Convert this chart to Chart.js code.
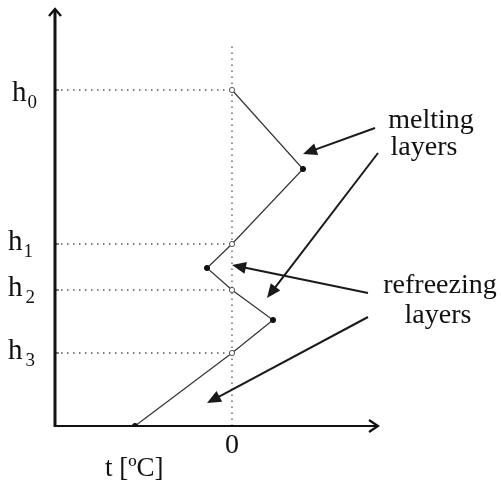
<!DOCTYPE html>
<html>
<head>
<meta charset="utf-8">
<script src="https://cdn.jsdelivr.net/npm/chart.js@4/dist/chart.umd.min.js"></script>
<style>
  html, body { margin: 0; padding: 0; background: #fff; }
  #wrap { width: 501px; height: 486px; }
</style>
</head>
<body>
<div id="wrap"><canvas id="c" width="501" height="486"></canvas></div>
<script>
// temperature profile: t [°C] against height
const profileT = [0, 7.1, 0, -2.5, 0, 4.1, 0, -9.7];
const profileH = [33.6, 25.7, 18.2, 15.8, 13.6, 10.6, 7.3, 0];
const crossing = [true, false, true, false, true, false, true, false]; // open circle where t = 0

// marked heights on the vertical axis
const levelNames = ['0', '1', '2', '3'];
const levelH = [33.6, 18.2, 13.6, 7.3];
const zeroLineTop = 38.4;

// axis ranges
const tMin = -17.7, tMax = 14.6;
const hMin = 0, hMax = 41.8;

// annotation arrows [fromT, fromH, toT, toH]
const arrows = [
  [14.3, 29.8, 7.1, 27.2],
  [14.6, 27.3, 3.5, 12.8],
  [13.6, 13.3, 0.0, 16.1],
  [13.6, 10.9, -2.5, 2.3]
];
// annotation texts [text, t, h]
const notes = [
  ['melting', 19.9, 29.8],
  ['layers', 19.2, 27.1],
  ['refreezing', 20.8, 13.3],
  ['layers', 20.6, 10.3]
];

const SERIF = '"Liberation Serif", "Times New Roman", serif';
const INK = '#111';

const datasets = [];
datasets.push({
  label: 'profile',
  data: profileT.map((t, i) => ({ x: t, y: profileH[i] })),
  showLine: true,
  borderColor: '#333',
  borderWidth: 1.2,
  pointRadius: 2.6,
  pointBorderWidth: 1,
  pointBorderColor: crossing.map(c => c ? '#555' : '#111'),
  pointBackgroundColor: crossing.map(c => c ? '#fff' : '#111'),
  order: 0
});
levelH.forEach((h, i) => {
  datasets.push({
    label: 'h' + levelNames[i],
    data: [{ x: tMin, y: h }, { x: 0, y: h }],
    showLine: true,
    borderColor: '#555',
    borderWidth: 1.3,
    borderDash: [1.5, 4.5],
    pointRadius: 0,
    order: 1
  });
});
datasets.push({
  label: 'zero',
  data: [{ x: 0, y: hMin }, { x: 0, y: zeroLineTop }],
  showLine: true,
  borderColor: '#555',
  borderWidth: 1.3,
  borderDash: [1.5, 4.5],
  pointRadius: 0,
  order: 1
});

function arrowHead(ctx, x1, y1, x2, y2, len, half) {
  const a = Math.atan2(y2 - y1, x2 - x1);
  ctx.beginPath();
  ctx.moveTo(x2, y2);
  ctx.lineTo(x2 - len * Math.cos(a) + half * Math.sin(a), y2 - len * Math.sin(a) - half * Math.cos(a));
  ctx.lineTo(x2 - len * Math.cos(a) - half * Math.sin(a), y2 - len * Math.sin(a) + half * Math.cos(a));
  ctx.closePath();
  ctx.fill();
}

const sketch = {
  id: 'sketch',
  afterDatasetsDraw(chart) {
    const ctx = chart.ctx;
    const xs = chart.scales.x, ys = chart.scales.y;
    const X = v => xs.getPixelForValue(v), Y = v => ys.getPixelForValue(v);
    const x0 = X(tMin), y0 = Y(hMin);
    ctx.save();
    ctx.strokeStyle = '#111';
    ctx.fillStyle = '#111';
    ctx.lineCap = 'butt';

    // vertical axis with arrow
    ctx.lineWidth = 3;
    ctx.beginPath();
    ctx.moveTo(x0, y0 + 1);
    ctx.lineTo(x0, Y(hMax) + 2);
    ctx.stroke();
    ctx.lineWidth = 2.4;
    ctx.beginPath();
    ctx.moveTo(x0 - 6, Y(hMax) + 8);
    ctx.lineTo(x0, Y(hMax) + 1);
    ctx.lineTo(x0 + 6, Y(hMax) + 8);
    ctx.stroke();

    // horizontal axis with arrow
    ctx.lineWidth = 2.2;
    ctx.beginPath();
    ctx.moveTo(x0, y0);
    ctx.lineTo(X(tMax) - 1, y0);
    ctx.stroke();
    ctx.beginPath();
    ctx.moveTo(X(tMax) - 9, y0 - 6);
    ctx.lineTo(X(tMax), y0);
    ctx.lineTo(X(tMax) - 9, y0 + 6);
    ctx.stroke();

    // little ticks at marked heights
    ctx.lineWidth = 1;
    levelH.forEach(h => {
      ctx.beginPath();
      ctx.moveTo(x0, Y(h));
      ctx.lineTo(x0 + 4, Y(h));
      ctx.stroke();
    });

    // height labels h0..h3
    ctx.fillStyle = INK;
    ctx.textBaseline = 'alphabetic';
    ctx.textAlign = 'left';
    levelH.forEach((h, i) => {
      const by = Y(h) + (i === 0 ? 11 : 6);
      const bx = x0 - (i === 0 ? 43 : 47);
      ctx.font = '29px ' + SERIF;
      ctx.fillText('h', bx, by);
      const w = ctx.measureText('h').width;
      ctx.font = '19px ' + SERIF;
      ctx.fillText(levelNames[i], bx + w + (i >= 2 ? 3 : 1), by + 7);
    });

    // axis texts
    ctx.font = '28px ' + SERIF;
    ctx.textAlign = 'center';
    ctx.fillText('0', X(0), y0 + 27);
    ctx.font = '27px ' + SERIF;
    ctx.textAlign = 'left';
    ctx.fillText('t [\u00baC]', x0 + 50, y0 + 50);

    // annotation arrows
    ctx.strokeStyle = '#1a1a1a';
    ctx.fillStyle = '#1a1a1a';
    ctx.lineWidth = 2;
    arrows.forEach(a => {
      const x1 = X(a[0]), y1 = Y(a[1]), x2 = X(a[2]), y2 = Y(a[3]);
      const ang = Math.atan2(y2 - y1, x2 - x1);
      ctx.beginPath();
      ctx.moveTo(x1, y1);
      ctx.lineTo(x2 - 10 * Math.cos(ang), y2 - 10 * Math.sin(ang));
      ctx.stroke();
      arrowHead(ctx, x1, y1, x2, y2, 14, 6);
    });

    // annotation texts
    ctx.fillStyle = INK;
    ctx.font = '28px ' + SERIF;
    ctx.textAlign = 'center';
    notes.forEach(n => ctx.fillText(n[0], X(n[1]), Y(n[2])));
    ctx.restore();
  }
};

new Chart(document.getElementById('c'), {
  type: 'scatter',
  data: { datasets },
  options: {
    responsive: false,
    animation: false,
    layout: { padding: { left: 55, right: 123, top: 8, bottom: 60 } },
    scales: {
      x: { type: 'linear', min: tMin, max: tMax, display: false },
      y: { type: 'linear', min: hMin, max: hMax, display: false }
    },
    plugins: { legend: { display: false }, tooltip: { enabled: false } }
  },
  plugins: [sketch]
});
</script>
</body>
</html>
